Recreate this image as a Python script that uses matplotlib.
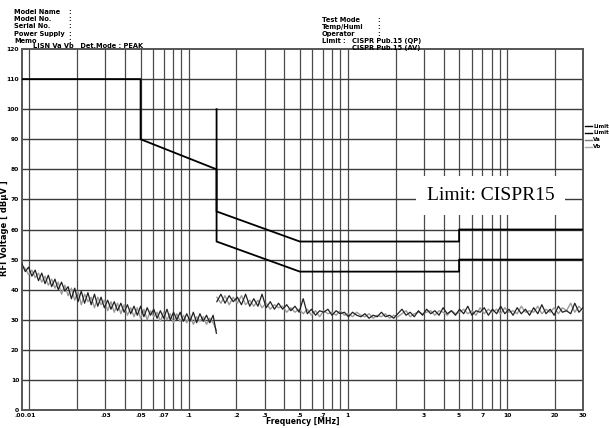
import matplotlib
matplotlib.use("Agg")
import matplotlib.pyplot as plt
from matplotlib.lines import Line2D

# ---- data ----
# limit lines (MHz, dBuV)
qp_freq = [0.009, 0.05, 0.05, 0.15, 0.15, 0.5, 5, 5, 30]
qp_level = [110, 110, 90, 80, 66, 56, 56, 60, 60]
av_freq = [0.15, 0.15, 0.5, 5, 5, 30]
av_level = [100, 56, 46, 46, 50, 50]

# sweep below 150 kHz
freq_a = [0.0090, 0.00944, 0.0099, 0.01038, 0.01089, 0.01142, 0.01198, 0.01256, 0.01317, 0.01382,
          0.01449, 0.0152, 0.01594, 0.01672, 0.01753, 0.01839, 0.01929, 0.02023, 0.02121, 0.02225,
          0.02334, 0.02447, 0.02567, 0.02692, 0.02823, 0.02961, 0.03106, 0.03257, 0.03416, 0.03583,
          0.03758, 0.03941, 0.04133, 0.04335, 0.04547, 0.04769, 0.05001, 0.05245, 0.05501, 0.0577,
          0.06051, 0.06347, 0.06656, 0.06981, 0.07322, 0.07679, 0.08054, 0.08447, 0.08859, 0.09292,
          0.09745, 0.1022, 0.1072, 0.1124, 0.1179, 0.1237, 0.1297, 0.136, 0.1427, 0.1496]
va_a = [48.5, 46.0, 47.5, 44.5, 46.5, 43.0, 45.5, 42.0, 44.8, 41.0,
        43.5, 40.0, 42.5, 39.5, 41.0, 37.0, 40.5, 36.0, 39.5, 35.5,
        39.0, 35.0, 38.5, 34.5, 37.5, 34.0, 36.5, 33.5, 36.0, 33.0,
        35.5, 32.5, 35.0, 32.0, 34.5, 31.5, 34.5, 31.0, 34.0, 31.5,
        33.5, 30.5, 33.0, 30.5, 33.5, 30.0, 32.5, 30.0, 32.5, 29.5,
        32.0, 29.5, 32.5, 29.0, 32.0, 29.5, 31.5, 29.0, 31.5, 25.5]
vb_a = [48.0, 47.0, 45.0, 46.5, 44.0, 45.5, 42.5, 44.5, 41.5, 43.5,
        40.5, 42.5, 38.5, 41.5, 38.0, 40.5, 36.5, 39.5, 35.0, 38.5,
        36.0, 37.5, 34.0, 37.5, 35.0, 36.5, 33.0, 36.0, 32.5, 35.5,
        32.0, 35.0, 31.5, 34.0, 31.0, 34.0, 30.5, 33.5, 30.0, 33.0,
        31.0, 32.5, 29.5, 32.5, 30.0, 32.0, 29.0, 32.0, 29.5, 31.5,
        29.0, 31.5, 28.5, 31.0, 29.5, 31.0, 28.5, 30.5, 29.0, 26.5]

# sweep from 150 kHz to 30 MHz
freq_b = [0.1505, 0.1597, 0.1695, 0.1799, 0.1909, 0.2026, 0.2150, 0.2282, 0.2422, 0.2570,
          0.2728, 0.2895, 0.3073, 0.3261, 0.3461, 0.3673, 0.3898, 0.4137, 0.4391, 0.4660,
          0.4946, 0.5249, 0.5571, 0.5912, 0.6275, 0.6660, 0.7068, 0.7501, 0.7961, 0.8449,
          0.8967, 0.9517, 1.010, 1.072, 1.138, 1.207, 1.281, 1.360, 1.443, 1.532,
          1.626, 1.725, 1.831, 1.943, 2.063, 2.189, 2.323, 2.466, 2.617, 2.777,
          2.948, 3.129, 3.320, 3.524, 3.740, 3.969, 4.212, 4.471, 4.745, 5.036,
          5.344, 5.672, 6.020, 6.389, 6.780, 7.196, 7.637, 8.105, 8.602, 9.129,
          9.689, 10.28, 10.91, 11.58, 12.29, 13.05, 13.85, 14.70, 15.60, 16.55,
          17.57, 18.64, 19.79, 21.00, 22.29, 23.65, 25.10, 26.64, 28.28, 30.00]
va_b = [36.0, 38.5, 35.5, 38.0, 36.0, 37.5, 35.0, 38.5, 34.5, 37.0,
        34.5, 38.5, 34.0, 36.0, 33.5, 35.5, 33.5, 35.0, 33.0, 34.5,
        32.5, 37.0, 32.0, 33.5, 31.5, 33.0, 32.5, 33.5, 31.5, 33.0,
        32.0, 32.5, 31.0, 32.5, 31.5, 31.0, 32.0, 30.5, 31.5, 31.0,
        32.5, 31.0, 31.5, 30.5, 32.0, 33.5, 31.5, 32.5, 31.0, 33.0,
        31.5, 33.5, 32.0, 33.0, 31.5, 34.0, 32.0, 33.0, 31.5, 33.5,
        32.0, 34.5, 31.5, 33.0, 32.5, 34.0, 31.5, 33.5, 32.0, 34.5,
        32.0, 33.5, 31.5, 34.0, 32.0, 33.5, 31.5, 34.0, 32.0, 35.0,
        32.0, 33.5, 31.5, 34.5, 32.5, 33.0, 32.0, 35.5, 32.5, 34.0]
vb_b = [37.5, 35.5, 38.0, 35.0, 37.5, 35.5, 38.0, 35.0, 36.5, 34.5,
        36.5, 34.0, 35.5, 33.5, 35.0, 34.0, 34.5, 32.5, 34.0, 32.5,
        33.5, 32.0, 33.5, 31.5, 33.0, 31.0, 33.0, 32.0, 32.5, 31.5,
        33.0, 31.5, 32.0, 31.0, 32.5, 31.5, 31.0, 32.0, 30.5, 31.5,
        31.0, 32.0, 30.5, 31.5, 31.0, 32.0, 33.0, 31.0, 32.0, 32.5,
        32.0, 32.5, 33.0, 31.5, 33.0, 32.5, 31.5, 33.0, 32.0, 32.5,
        33.5, 32.0, 33.0, 31.5, 34.0, 32.0, 33.5, 32.5, 33.5, 32.0,
        34.0, 32.5, 33.0, 32.0, 34.5, 32.5, 33.0, 32.5, 34.5, 32.0,
        33.5, 32.5, 34.0, 32.0, 34.0, 33.0, 35.5, 32.5, 34.5, 33.0]

# grid and tick labels
grid_freq = [0.01, 0.02, 0.03, 0.04, 0.05, 0.06, 0.07, 0.08, 0.09,
             0.1, 0.2, 0.3, 0.4, 0.5, 0.6, 0.7, 0.8, 0.9,
             1, 2, 3, 4, 5, 6, 7, 8, 9, 10, 20]
grid_level = [10, 20, 30, 40, 50, 60, 70, 80, 90, 100, 110]
xtick_pos = [0.0094, 0.03, 0.05, 0.07, 0.1, 0.2, 0.3, 0.5, 0.7, 1, 3, 5, 7, 10, 20, 30]
xtick_txt = ['.00.01', '.03', '.05', '.07', '.1', '.2', '.3', '.5', '.7', '1', '3', '5', '7', '10', '20', '30']
ytick_pos = [0, 10, 20, 30, 40, 50, 60, 70, 80, 90, 100, 110, 120]

header_left = ['Model Name', 'Model No.', 'Serial No.', 'Power Supply', 'Memo']
header_right = ['Test Mode', 'Temp/Humi', 'Operator']
legend_items = [('Limit', 'black'), ('Limit', 'black'), ('Va', '#777777'), ('Vb', '#aaaaaa')]

W, H = 609, 428
fig = plt.figure(figsize=(W / 100, H / 100), dpi=100)
ax = fig.add_axes([22 / W, 1 - 410 / H, (583 - 22) / W, (410 - 49) / H])

ax.set_xscale('log')
ax.set_xlim(0.009, 30)
ax.set_ylim(0, 120)

# grid
for f in grid_freq:
    ax.axvline(f, color='#4a4a4a', lw=0.9, zorder=1)
for v in grid_level:
    ax.axhline(v, color='#3a3a3a', lw=1.0, zorder=1)

# traces
ax.plot(freq_a, vb_a, color='#9a9a9a', lw=1.0, zorder=3)
ax.plot(freq_b, vb_b, color='#9a9a9a', lw=1.0, zorder=3)
ax.plot(freq_a, va_a, color='#202020', lw=0.9, zorder=4)
ax.plot(freq_b, va_b, color='#202020', lw=0.9, zorder=4)

# limits
ax.plot(qp_freq, qp_level, color='black', lw=1.3, zorder=5)
ax.plot(av_freq, av_level, color='black', lw=1.3, zorder=5)

for s in ax.spines.values():
    s.set_color('#555555')
    s.set_linewidth(1.4)

ax.set_xticks(xtick_pos)
ax.set_xticklabels(xtick_txt)
ax.xaxis.set_minor_locator(plt.NullLocator())
ax.set_yticks(ytick_pos)
ax.set_yticklabels([str(v) for v in ytick_pos])
ax.tick_params(length=0, labelsize=4.3, pad=2)
for lab in ax.get_xticklabels() + ax.get_yticklabels():
    lab.set_fontweight('bold')

# annotation box
ax.text(7.9, 71.3, 'Limit: CISPR15', family='Liberation Serif', fontsize=14,
        ha='center', va='center', zorder=10,
        bbox=dict(boxstyle='square,pad=0.55', fc='white', ec='none'))

# axis titles
fig.text(4.5 / W, 1 - 228 / H, 'RFI Voltage [ dBµV ]', rotation=90, fontsize=6,
         ha='center', va='center', fontweight='bold')
fig.text(303 / W, 1 - 421 / H, 'Frequency [MHz]', fontsize=5.5,
         ha='center', va='center', fontweight='bold')

# header
hk = dict(fontsize=4.8, fontweight='bold', va='center')
for i, t in enumerate(header_left):
    y = 1 - (12 + 7.2 * i) / H
    fig.text(14 / W, y, t, **hk)
    fig.text(68 / W, y, ':', **hk)
for i, t in enumerate(header_right):
    y = 1 - (20 + 7 * i) / H
    fig.text(322 / W, y, t, **hk)
    fig.text(377 / W, y, ':', **hk)
fig.text(322 / W, 1 - 41 / H, 'Limit :', **hk)
fig.text(352 / W, 1 - 41 / H, 'CISPR Pub.15 (QP)', **hk)
fig.text(352 / W, 1 - 48 / H, 'CISPR Pub.15 (AV)', **hk)
fig.text(33 / W, 1 - 46.5 / H, 'LISN Va Vb   Det.Mode : PEAK', **hk)

# right-side legend
for i, (t, c) in enumerate(legend_items):
    y = 1 - (126 + 7 * i) / H
    fig.add_artist(Line2D([585 / W, 592 / W], [y, y], color=c, lw=1.0,
                          transform=fig.transFigure))
    fig.text(593 / W, y, t, fontsize=4, fontweight='bold', va='center')

fig.savefig('out.png', dpi=100)
